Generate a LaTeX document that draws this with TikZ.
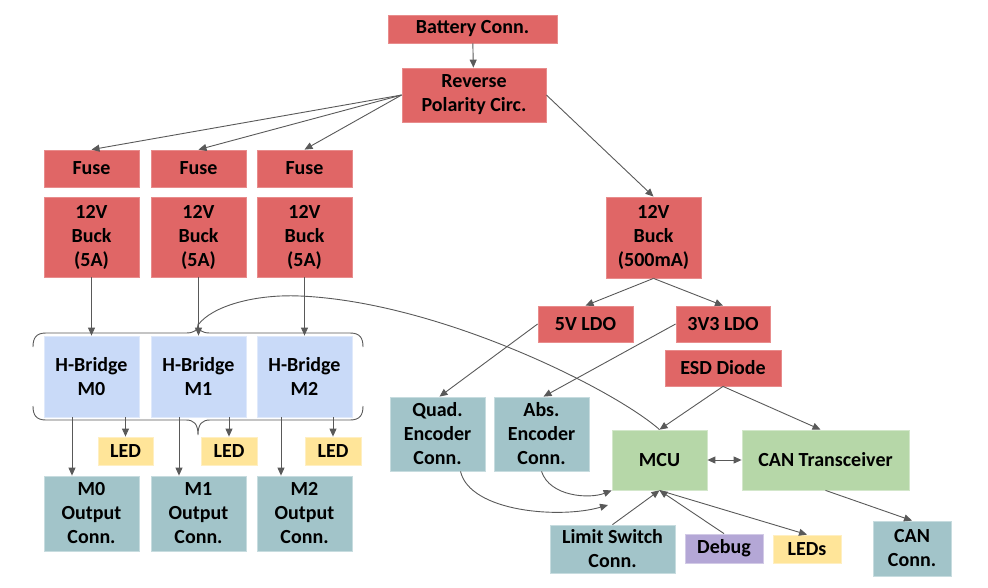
\documentclass[tikz,border=0pt]{standalone}
\usepackage{fontspec}
\setmainfont{Carlito}
\usetikzlibrary{arrows.meta}
\definecolor{cred}{HTML}{E06666}
\definecolor{cblue}{HTML}{C9DAF8}
\definecolor{cyel}{HTML}{FFE599}
\definecolor{cteal}{HTML}{A2C4C9}
\definecolor{cgreen}{HTML}{B6D7A8}
\definecolor{cpurp}{HTML}{B4A7D6}
\definecolor{cline}{HTML}{595959}
\tikzset{
  box/.style={rectangle, inner sep=0pt, align=center, line width=0.8pt,
    font=\fontsize{20}{24}\selectfont\bfseries, text=black},
  redbox/.style={box, fill=cred, draw=cred!75!white},
  bluebox/.style={box, fill=cblue, draw=cblue!60!white},
  yelbox/.style={box, fill=cyel, draw=cyel!60!white},
  tealbox/.style={box, fill=cteal, draw=cteal!60!white},
  greenbox/.style={box, fill=cgreen, draw=cgreen!60!white},
  purpbox/.style={box, fill=cpurp, draw=cpurp!60!white},
  arr/.style={draw=cline, line width=0.9pt, -{Triangle[length=8pt,width=7pt]}},
  darr/.style={draw=cline, line width=0.9pt, {Triangle[length=8pt,width=7pt]}-{Triangle[length=8pt,width=7pt]}},
  plain/.style={draw=cline, line width=0.9pt},
}
\begin{document}
\begin{tikzpicture}[x=1pt,y=-1pt]
\useasboundingbox (0,0) rectangle (988,587);
% top chain
\node[redbox, minimum width=169pt, minimum height=28pt] (bat) at (472.5,29) {Battery Conn.};
\node[redbox, minimum width=144pt, minimum height=54pt] (rev) at (474,95) {Reverse\\Polarity Circ.};
% motor columns
\foreach \i/\cx in {0/91.5,1/198.5,2/304.5}{
  \node[redbox, minimum width=95pt, minimum height=37pt] (fuse\i) at (\cx,168.5) {Fuse};
  \node[redbox, minimum width=95pt, minimum height=80pt] (buck\i) at (\cx,237) {12V\\Buck\\(5A)};
  \node[bluebox, minimum width=95pt, minimum height=81pt] (hb\i) at (\cx,376.5) {H-Bridge\\M\i};
  \node[tealbox, minimum width=95pt, minimum height=75pt] (out\i) at (\cx,513.5) {M\i\\Output\\Conn.};
}
\node[yelbox, minimum width=55pt, minimum height=28pt] (led0) at (125.5,451) {LED};
\node[yelbox, minimum width=56pt, minimum height=28pt] (led1) at (229,451) {LED};
\node[yelbox, minimum width=56pt, minimum height=28pt] (led2) at (333,451) {LED};
% right side
\node[redbox, minimum width=95pt, minimum height=81pt] (buckl) at (653.5,237.5) {12V\\Buck\\(500mA)};
\node[redbox, minimum width=95pt, minimum height=36pt] (ldo5) at (585.5,324) {5V LDO};
\node[redbox, minimum width=94pt, minimum height=36pt] (ldo3) at (723,324) {3V3 LDO};
\node[redbox, minimum width=116pt, minimum height=36pt] (esd) at (723,368) {ESD Diode};
\node[tealbox, minimum width=95pt, minimum height=74pt] (quad) at (437.5,434) {Quad.\\Encoder\\Conn.};
\node[tealbox, minimum width=95pt, minimum height=74pt] (abs) at (541.5,434) {Abs.\\Encoder\\Conn.};
\node[greenbox, minimum width=95pt, minimum height=60pt] (mcu) at (659.5,460) {MCU};
\node[greenbox, minimum width=167pt, minimum height=60pt] (cant) at (825.5,460) {CAN Transceiver};
\node[tealbox, minimum width=125pt, minimum height=48pt] (lim) at (612.5,549) {Limit Switch\\Conn.};
\node[purpbox, minimum width=78pt, minimum height=29pt] (dbg) at (724,548.5) {Debug};
\node[yelbox, minimum width=68pt, minimum height=28pt] (leds) at (807,549) {LEDs};
\node[tealbox, minimum width=78pt, minimum height=55pt] (canc) at (912,548.5) {CAN\\Conn.};
% braces
\draw[plain] (33,347) .. controls (33,338) and (36,333) .. (46,333) -- (186,333)
  .. controls (194,333) and (198,330) .. (198,325)
  .. controls (198,330) and (202,333) .. (210,333) -- (350,333)
  .. controls (360,333) and (363,338) .. (363,347);
\draw[plain] (33,406) .. controls (33,415) and (36,420) .. (46,420) -- (186,420)
  .. controls (194,420) and (198,424) .. (198,435)
  .. controls (198,424) and (202,420) .. (210,420) -- (350,420)
  .. controls (360,420) and (363,415) .. (363,406);
\coordinate (bracetip) at (198,325);
% connectors
\draw[arr] (bat) -- (rev);
\foreach \i in {0,1,2}{
  \draw[arr] (rev.west) -- (fuse\i.north);
  \draw[arr] (buck\i.south) -- (hb\i.north);
  \draw[arr] (hb\i.south -| led\i.north) -- (led\i.north);
}
\draw[arr] ([xshift=-19.5pt]hb0.south) -- ([xshift=-19.5pt]out0.north);
\draw[arr] ([xshift=-19.5pt]hb1.south) -- ([xshift=-19.5pt]out1.north);
\draw[arr] ([xshift=-23.5pt]hb2.south) -- ([xshift=-23.5pt]out2.north);
\draw[arr] (rev.east) -- (buckl.north);
\draw[arr] (buckl.south) -- (ldo5.north);
\draw[arr] (buckl.south) -- (ldo3.north);
\draw[arr] (ldo5.west) -- ([xshift=2pt]quad.north);
\draw[arr] (ldo3.west) -- ([xshift=2pt]abs.north);
\draw[arr] (esd.south) -- (mcu.north);
\draw[arr] (esd.south) -- ([xshift=-5pt]cant.north);
\draw[darr] (mcu.east) -- (cant.west);
\draw[arr] (cant.south) -- (canc.north);
\draw[arr] (lim.north) -- (mcu.south);
\draw[arr] (dbg.north) -- (mcu.south);
\draw[arr] (mcu.south) -- (leds.north);
\coordinate (qend) at (608,505);
\draw[arr] ([xshift=23pt]quad.south) .. controls (470,512) and (560,519) .. (qend);
\draw[arr] (abs.south) .. controls (550,497) and (590,499) .. (mcu.south west);
\draw[plain] (mcu.north) .. controls (615,390) and (440,302) .. (300,296)
  .. controls (255,294) and (212,306) .. (bracetip);
\end{tikzpicture}
\end{document}
